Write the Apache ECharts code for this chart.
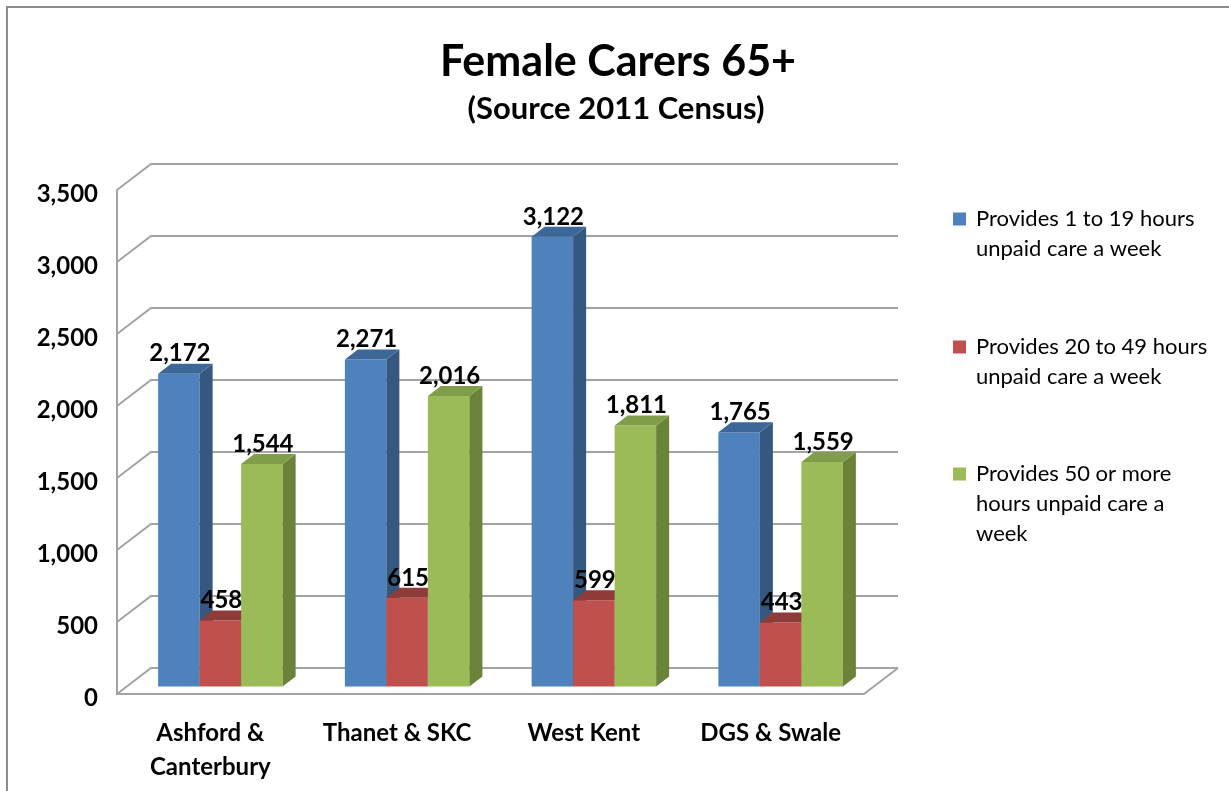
<!DOCTYPE html>
<html>
<head>
<meta charset="utf-8">
<title>Female Carers 65+</title>
<script src="https://cdn.jsdelivr.net/npm/echarts@6.0.0/dist/echarts.min.js"></script>
<style>
  html, body { margin: 0; padding: 0; background: #fff; }
  #chart { width: 1229px; height: 791px; }
</style>
</head>
<body>
<div id="chart"></div>
<script>
// data
const areas = ['Ashford &\nCanterbury', 'Thanet & SKC', 'West Kent', 'DGS & Swale']
const hours1to19 = [2172, 2271, 3122, 1765]
const hours20to49 = [458, 615, 599, 443]
const hours50plus = [1544, 2016, 1811, 1559]
const yTicks = [0, 500, 1000, 1500, 2000, 2500, 3000, 3500]
const seriesNames = [
  'Provides 1 to 19 hours unpaid care a week',
  'Provides 20 to 49 hours unpaid care a week',
  'Provides 50 or more hours unpaid care a week',
]
const legendLines = [
  ['Provides 1 to 19 hours', 'unpaid care a week'],
  ['Provides 20 to 49 hours', 'unpaid care a week'],
  ['Provides 50 or more', 'hours unpaid care a', 'week'],
]

// fake 3d look (excel style)
const WALL_DX = 34, WALL_DY = -26   // depth of floor / side wall
const BAR_FX = 10, BAR_FY = -7.6    // bars stand a bit behind the front edge
const BAR_DX = 13, BAR_DY = -10     // bar depth
const BAR_W = 41.5
const FONT = 'Lato, "Open Sans", sans-serif'
const GRID_LINE = '#a3a3a3'

const faces = [
  { front: '#4f81bd', side: '#34587f', top: '#3d6796' },
  { front: '#c0504d', side: '#8c3936', top: '#8f3b3a' },
  { front: '#9bbb59', side: '#6b8339', top: '#809e49' },
]

const fmt = v => v.toLocaleString('en-US')

function renderWall(params, api) {
  const y = api.coord([0, api.value(1)])[1]
  const cs = params.coordSys
  const xl = cs.x, xr = cs.x + cs.width
  const lineStyle = { stroke: GRID_LINE, lineWidth: 2, fill: null }
  const children = [{
    type: 'polyline',
    shape: { points: [[xl, y], [xl + WALL_DX, y + WALL_DY], [xr + WALL_DX, y + WALL_DY]] },
    style: lineStyle,
  }]
  if (api.value(1) === 0) {
    children.push({ type: 'polyline', shape: { points: [[xr, y], [xr + WALL_DX, y + WALL_DY]] }, style: lineStyle })
  }
  return { type: 'group', children }
}

function barRenderer(idx) {
  const c = faces[idx]
  return function (params, api) {
    const cat = api.value(0), val = api.value(1)
    const base = api.coord([cat, 0])
    const top = api.coord([cat, val])
    const x0 = base[0] - BAR_W * 1.5 + idx * BAR_W + BAR_FX
    const x1 = x0 + BAR_W
    const yb = base[1] + BAR_FY
    const yt = top[1] + BAR_FY
    return {
      type: 'group',
      children: [
        { type: 'rect', shape: { x: x0, y: yt, width: BAR_W, height: yb - yt }, style: { fill: c.front } },
        { type: 'polygon', shape: { points: [[x1, yt], [x1 + BAR_DX, yt + BAR_DY], [x1 + BAR_DX, yb + BAR_DY], [x1, yb]] }, style: { fill: c.side } },
        { type: 'polygon', shape: { points: [[x0, yt], [x0 + BAR_DX, yt + BAR_DY], [x1 + BAR_DX, yt + BAR_DY], [x1, yt]] }, style: { fill: c.top } },
        {
          type: 'text', z2: 10,
          style: {
            text: fmt(val), x: (x0 + x1) / 2 + 1, y: yt + BAR_DY + 2,
            align: 'center', verticalAlign: 'bottom',
            font: 'bold 24px ' + FONT, fill: '#000',
          },
        },
      ],
    }
  }
}

const values = [hours1to19, hours20to49, hours50plus]
const barSeries = values.map((arr, i) => ({
  name: seriesNames[i],
  type: 'custom',
  z: 3,
  clip: false,
  color: faces[i].front,
  renderItem: barRenderer(i),
  data: arr.map((v, k) => [k, v]),
}))

// one legend per entry; blank lines on top keep the square level with the first text line
const legendTops = [174, 302, 399]
const legends = seriesNames.map((n, i) => ({
  data: [n],
  left: 953, top: legendTops[i],
  padding: 0,
  itemWidth: 18, itemHeight: 13,
  icon: 'path://M0,0H13V13H0Z M17.99,0H18V13H17.99Z',
  selectedMode: false,
  formatter: () => '\n'.repeat(legendLines[i].length - 1) + legendLines[i].join('\n'),
  textStyle: { fontFamily: FONT, fontSize: 22, lineHeight: 30, color: '#000' },
}))

const chart = echarts.init(document.getElementById('chart'))
chart.setOption({
  backgroundColor: '#fff',
  animation: false,
  title: [
    { text: 'Female Carers 65+', left: 618, top: 41, textAlign: 'center', padding: 0,
      textStyle: { fontFamily: FONT, fontSize: 43, fontWeight: 'bold', color: '#000' } },
    { text: '(Source 2011 Census)', left: 616, top: 93, textAlign: 'center', padding: 0,
      textStyle: { fontFamily: FONT, fontSize: 31, fontWeight: 'bold', color: '#000' } },
  ],
  legend: legends,
  grid: { left: 117, top: 190, width: 747, height: 504 },
  xAxis: {
    type: 'category',
    data: areas,
    axisLine: { lineStyle: { color: GRID_LINE, width: 2 } },
    axisTick: { show: false },
    axisLabel: { interval: 0, margin: 22, color: '#000', fontFamily: FONT, fontSize: 24, fontWeight: 'bold', lineHeight: 34 },
  },
  yAxis: {
    type: 'value',
    min: 0, max: 3500, interval: 500,
    axisLine: { show: true, lineStyle: { color: GRID_LINE, width: 2 } },
    axisTick: { show: false },
    splitLine: { show: false },
    axisLabel: {
      margin: 19, color: '#000', fontFamily: FONT, fontSize: 24, fontWeight: 'bold',
      formatter: v => '{v|' + fmt(v) + '}',
      rich: { v: { fontFamily: FONT, fontSize: 24, fontWeight: 'bold', color: '#000', padding: [8, 0, 0, 0] } },
    },
  },
  graphic: [{
    type: 'rect', silent: true,
    shape: { x: 7, y: 7, width: 1300, height: 900 },
    style: { fill: null, stroke: '#8c8c8c', lineWidth: 2 },
  }],
  series: [
    {
      type: 'custom', z: 1, silent: true, clip: false,
      renderItem: renderWall,
      data: yTicks.map(v => [0, v]),
    },
    ...barSeries,
  ],
})
</script>
</body>
</html>
